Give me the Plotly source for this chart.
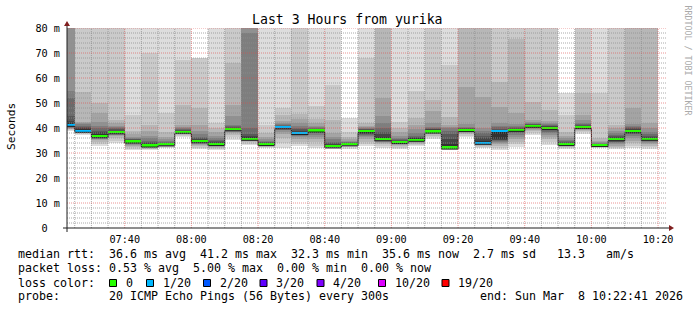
import numpy as np
import pandas as pd
import plotly.graph_objects as go

# ---------------- data (SmokePing RRD: 20 sorted pings per 300 s step, ms) ----------------
step_end = pd.date_range("2026-03-08 07:25:00", periods=36, freq="5min")

ping01 = [39.0, 37.3, 32.7, 34, 31.3, 31.2, 32, 36.5, 31.7, 31.3, 35.3, 33.3, 32, 32, 32.7, 32, 31.5, 31.8, 32.7, 32, 31.7, 32.7, 35.5, 31.4, 36.5, 32, 31.3, 32.5, 37.3, 33.3, 31.8, 37.5, 32, 31.5, 32, 31.7]
ping02 = [39.3, 37.6, 33.5, 35, 31.8, 31.5, 32.3, 37, 32.2, 31.7, 36.5, 33.8, 32.3, 34, 33.5, 33, 31.8, 32.5, 33.5, 32.8, 32.2, 33.3, 36.3, 31.6, 37, 32.5, 32, 33.5, 38, 34.5, 32.2, 38.3, 32.3, 32, 33, 32.3]
ping03 = [39.6, 37.9, 34.5, 36, 32.3, 31.8, 32.6, 37.3, 32.7, 32.1, 37.3, 34.3, 32.6, 36, 34.5, 34.3, 32, 32.8, 34.5, 33.5, 32.7, 33.8, 37, 31.8, 37.5, 33, 32.8, 34.5, 38.7, 35.5, 32.6, 38.9, 32.5, 32.5, 34, 32.9]
ping04 = [39.8, 38.1, 35.2, 36.8, 32.8, 32.1, 32.8, 37.6, 33.2, 32.5, 38, 34.7, 32.9, 37.5, 35.5, 35.5, 32.2, 33, 35.5, 34, 33.1, 34.2, 37.5, 31.9, 38, 33.3, 33.5, 35.5, 39.3, 36.5, 32.9, 39.3, 32.7, 33, 35, 33.5]
ping05 = [40.0, 38.3, 35.6, 37.2, 33.3, 32.3, 33, 37.8, 33.6, 32.8, 38.5, 35, 33.1, 38.5, 36.3, 36.5, 32.3, 33.1, 36.3, 34.5, 33.5, 34.5, 37.8, 32, 38.3, 33.5, 34, 36.5, 39.8, 37.3, 33.1, 39.6, 32.8, 33.5, 36, 34]
ping06 = [40.2, 38.5, 36.0, 37.5, 33.7, 32.5, 33.1, 38, 34, 33, 38.8, 35.2, 33.2, 39.2, 36.8, 37.3, 32.4, 33.2, 36.8, 34.8, 33.8, 34.8, 38, 32.05, 38.6, 33.7, 34.5, 37.3, 40.1, 38, 33.3, 39.8, 32.9, 34, 36.8, 34.5]
ping07 = [40.4, 38.6, 36.2, 37.8, 34, 32.6, 33.2, 38.1, 34.2, 33.2, 39, 35.3, 33.3, 39.6, 37.2, 38, 32.5, 33.3, 37.3, 35, 34, 35, 38.2, 32.1, 38.8, 33.8, 34.9, 38, 40.3, 38.6, 33.4, 40, 33, 34.4, 37.5, 34.9]
ping08 = [40.6, 38.7, 36.4, 38, 34.2, 32.7, 33.3, 38.2, 34.4, 33.3, 39.2, 35.4, 33.4, 39.9, 37.5, 38.4, 32.55, 33.35, 37.8, 35.2, 34.1, 35.1, 38.3, 32.15, 39, 33.9, 35.2, 38.5, 40.5, 39.1, 33.5, 40.1, 33.05, 34.8, 38, 35.2]
ping09 = [40.8, 38.8, 36.5, 38.1, 34.3, 32.8, 33.4, 38.3, 34.5, 33.4, 39.3, 35.5, 33.5, 40.1, 37.7, 38.7, 32.6, 33.4, 38.2, 35.3, 34.2, 35.2, 38.4, 32.2, 39.1, 34, 35.4, 38.9, 40.6, 39.5, 33.55, 40.2, 33.1, 35.1, 38.3, 35.4]
ping10 = [41.0, 38.9, 36.6, 38.2, 34.4, 32.9, 33.5, 38.4, 34.6, 33.5, 39.4, 35.6, 33.55, 40.2, 37.9, 38.9, 32.65, 33.45, 38.5, 35.4, 34.3, 35.25, 38.5, 32.2, 39.15, 34.05, 35.5, 39.1, 40.7, 39.8, 33.6, 40.3, 33.15, 35.3, 38.5, 35.5]
ping11 = [42, 39.5, 37.5, 38.6, 34.8, 33.5, 33.8, 38.8, 35, 34, 40, 36.2, 33.8, 40.6, 38.6, 39.3, 33.1, 33.7, 39.1, 36.5, 34.8, 35.7, 39.2, 33.5, 39.6, 35, 39, 39.5, 41.1, 40.4, 33.9, 40.7, 33.3, 36, 39.4, 36.2]
ping12 = [43, 40, 38.5, 39, 35.2, 34, 34, 39, 35.5, 34.3, 40.2, 36.8, 34, 40.8, 39, 39.6, 33.5, 33.9, 39.3, 37.5, 35, 36, 39.5, 35.5, 39.8, 36, 39.4, 39.8, 41.3, 40.7, 34.1, 41, 33.4, 36.3, 39.7, 36.5]
ping13 = [45, 40.5, 39, 39.5, 35.5, 34.5, 34.2, 39.3, 36, 34.8, 40.5, 37.5, 34.3, 41, 39.5, 39.8, 34, 34.1, 39.5, 38.5, 35.3, 36.5, 39.7, 37.5, 40, 37, 39.8, 40, 41.5, 41, 34.4, 41.2, 33.6, 36.8, 40, 37]
ping14 = [52, 41, 40, 40, 35.8, 35, 34.5, 39.6, 36.5, 35.3, 40.8, 40, 34.6, 41.2, 40, 40, 34.5, 34.3, 39.7, 40, 35.7, 37, 40, 39, 40.2, 38, 40.3, 40.3, 41.7, 41.2, 34.8, 41.5, 33.8, 37.3, 40.3, 37.5]
ping15 = [55, 41.5, 41, 40.5, 36, 36, 35, 40, 37.5, 36, 41.3, 78, 35, 41.5, 41, 40.5, 35.5, 34.6, 40, 42, 36.2, 38, 40.5, 40, 40.5, 39, 41, 40.8, 42, 41.5, 35.3, 42, 34.1, 38, 40.8, 38.5]
ping16 = [81, 42, 42.6, 41, 36.5, 37, 35.5, 40.5, 39, 37, 45, 82, 35.5, 42, 42, 41, 36.5, 35, 40.5, 45, 37, 39.5, 42, 40.6, 41.5, 40, 42, 41.5, 42.5, 42, 36, 43.3, 34.5, 39, 41.5, 40]
ping17 = [83, 42.6, 46, 42, 37.5, 39, 36.5, 41.3, 41.3, 38.5, 49.3, 85, 36.5, 43, 43.5, 42, 38, 35.5, 41, 52, 38.5, 41.3, 47, 41.3, 56.5, 52.6, 48.5, 46, 43.3, 43, 37, 45.3, 35, 40, 48, 42]
ping18 = [86, 54.6, 50, 43.3, 38.8, 41.3, 38.6, 49.3, 48, 40, 66, 88, 38, 45.3, 45.5, 43.5, 43.3, 36.5, 42, 86, 40, 44, 51.3, 44.6, 86, 86, 58.6, 75.5, 50.6, 47.3, 38.6, 54, 36, 41.3, 86, 86]
ping19 = [90, 90, 90, 90, 45.3, 70, 46, 67.3, 68, 42, 90, 92, 41.3, 48, 90, 49, 57.3, 38.5, 68, 90, 42.6, 55, 90, 65.3, 90, 90, 90, 90, 90, 90, 45.3, 90, 54, 90, 90, 90]
ping20 = [95, 95, 95, 95, 95, 95, 95, 95, 68.2, 95, 95, 95, 95, 95, 95, 95, 95, 44, 95, 95, 95, 95, 95, 95, 95, 95, 95, 95, 95, 95, 54, 95, 95, 95, 95, 95]

median = [41.3, 38.9, 36.7, 38.3, 34.6, 33.0, 33.5, 38.5, 34.7, 33.6, 39.5, 35.7, 33.6, 40.3, 38.0, 39.0, 32.7, 33.5, 38.7, 35.5, 34.4, 35.3, 38.6, 32.2, 39.2, 34.1, 38.7, 39.3, 40.9, 40.0, 33.6, 40.4, 33.2, 35.5, 38.7, 35.7]
loss = [1, 1, 0, 0, 0, 0, 0, 0, 0, 0, 0, 0, 0, 1, 1, 0, 0, 0, 0, 0, 0, 0, 0, 0, 0, 1, 1, 0, 0, 0, 0, 0, 0, 0, 0, 0]

loss_thresholds = [0, 1, 2, 3, 4, 10, 19]
loss_colors = ["#26ff00", "#00b8ff", "#0059ff", "#5e00ff", "#7e00ff", "#dd00ff", "#ff0000"]
loss_labels = ["0", "1/20", "2/20", "3/20", "4/20", "10/20", "19/20"]

y_tick_vals = [0, 10, 20, 30, 40, 50, 60, 70, 80]
y_tick_text = ["0\u00a0\u00a0", "10 m", "20 m", "30 m", "40 m", "50 m", "60 m", "70 m", "80 m"]
x_tick_vals = ["2026-03-08 07:40", "2026-03-08 08:00", "2026-03-08 08:20", "2026-03-08 08:40",
               "2026-03-08 09:00", "2026-03-08 09:20", "2026-03-08 09:40", "2026-03-08 10:00",
               "2026-03-08 10:20"]
x_tick_text = ["07:40", "08:00", "08:20", "08:40", "09:00", "09:20", "09:40", "10:00", "10:20"]

title_text = "Last 3 Hours from yurika"
rrd_credit = "RRDTOOL / TOBI OETIKER"
row_rtt = "median rtt:  36.6 ms avg  41.2 ms max  32.3 ms min  35.6 ms now  2.7 ms sd   13.3   am/s"
row_loss = "packet loss: 0.53 % avg  5.00 % max  0.00 % min  0.00 % now"
row_probe = "probe:       20 ICMP Echo Pings (56 Bytes) every 300s"
row_end = "end: Sun Mar  8 10:22:41 2026"
loss_key_x = [109.5, 146.5, 203.5, 260, 317, 378.5, 442]

# ---------------- geometry ----------------
W, H = 697, 310
ML, MR, MT, MB = 67, 30, 28, 82
PW, PH = W - ML - MR, H - MT - MB
FONT = "DejaVu Sans Mono"
LEG_SIZE = 11.63


def px(x):
    return (x - ML) / PW


def py(y):
    return (H - MB - y) / PH


def keep_spaces(s):
    return s.replace(" ", "\u00a0")


pings = [ping01, ping02, ping03, ping04, ping05, ping06, ping07, ping08, ping09, ping10,
         ping11, ping12, ping13, ping14, ping15, ping16, ping17, ping18, ping19, ping20]
for p in pings:
    assert len(p) == len(step_end)

STEP_MS = 300000
fig = go.Figure()

# smoke: layer k spans ping k .. ping (21-k), darker toward the median
for k in range(1, 11):
    lo = np.array(pings[k - 1], dtype=float)
    hi = np.array(pings[20 - k], dtype=float)
    g = int(190 / 10 * (10 - k)) + 50
    fig.add_trace(go.Bar(x=step_end, y=hi - lo, base=lo, offset=-STEP_MS, width=STEP_MS,
                         marker=dict(color=f"rgb({g},{g},{g})", line=dict(width=0)),
                         hoverinfo="skip", showlegend=False))


def loss_color(n):
    c = loss_colors[0]
    for t, col in zip(loss_thresholds, loss_colors):
        if n >= t:
            c = col
    return c


med = np.array(median, dtype=float)
band = 0.9
fig.add_trace(go.Bar(x=step_end, y=[band] * len(med), base=med - band / 2, offset=-STEP_MS,
                     width=STEP_MS, marker=dict(color=[loss_color(n) for n in loss], line=dict(width=0)),
                     hoverinfo="skip", showlegend=False))

step_start = step_end - pd.Timedelta("5min")
xs = list(step_start) + [step_end[-1]]
ys = list(med - 0.62) + [med[-1] - 0.62]
fig.add_trace(go.Scatter(x=xs, y=ys, mode="lines", line=dict(color="rgb(32,32,32)", width=1, shape="hv"),
                         hoverinfo="skip", showlegend=False))

x_start = pd.Timestamp("2026-03-08 07:22:41")
x_end = pd.Timestamp("2026-03-08 10:22:41")

shapes = []
GRID = "rgba(143,143,143,0.75)"
MGRID = "rgba(222,79,79,0.6)"
DASH = "1px,1px"
# minor grid
for t in pd.date_range("2026-03-08 07:25", "2026-03-08 10:20", freq="5min"):
    if t.minute % 20 != 0:
        shapes.append(dict(type="line", xref="x", yref="y domain", x0=t, x1=t, y0=0, y1=1,
                           line=dict(color=GRID, width=1, dash=DASH), layer="above"))
for v in range(2, 80, 2):
    if v % 10 != 0:
        shapes.append(dict(type="line", xref="x domain", yref="y", x0=0, x1=1, y0=v, y1=v,
                           line=dict(color=GRID, width=1, dash=DASH), layer="above"))
# major grid
for t in x_tick_vals:
    shapes.append(dict(type="line", xref="x", yref="y domain", x0=t, x1=t, y0=0, y1=1,
                       line=dict(color=MGRID, width=1, dash=DASH), layer="above"))
for v in y_tick_vals[1:]:
    shapes.append(dict(type="line", xref="x domain", yref="y", x0=0, x1=1, y0=v, y1=v,
                       line=dict(color=MGRID, width=1, dash=DASH), layer="above"))

# axes + arrows
AX = "rgb(31,31,31)"
ARROW = "rgb(128,31,31)"
shapes.append(dict(type="line", xref="paper", yref="paper", x0=px(63), x1=px(ML + PW + 3), y0=0, y1=0,
                   line=dict(color=AX, width=1), layer="above"))
shapes.append(dict(type="line", xref="paper", yref="paper", x0=0, x1=0, y0=py(H - MB + 4), y1=py(MT - 4),
                   line=dict(color=AX, width=1), layer="above"))
xa, ya = px(ML + PW + 2), px(ML + PW + 7)
shapes.append(dict(type="path", xref="paper", yref="paper",
                   path=f"M {xa} {py(H - MB - 3)} L {ya} {py(H - MB)} L {xa} {py(H - MB + 3)} Z",
                   fillcolor=ARROW, line=dict(color=ARROW, width=0), layer="above"))
shapes.append(dict(type="path", xref="paper", yref="paper",
                   path=f"M {px(ML - 3)} {py(MT - 2)} L {px(ML)} {py(MT - 7)} L {px(ML + 3)} {py(MT - 2)} Z",
                   fillcolor=ARROW, line=dict(color=ARROW, width=0), layer="above"))

# loss colour key squares
for xk, col in zip(loss_key_x, loss_colors):
    shapes.append(dict(type="rect", xref="paper", yref="paper", x0=px(xk), x1=px(xk + 7),
                       y0=py(286.5), y1=py(279.5), fillcolor=col, line=dict(color="black", width=1)))

annotations = []


def txt(s, x, y, size=LEG_SIZE, color="black", xanchor="left", angle=0):
    annotations.append(dict(text=keep_spaces(s), x=px(x), y=py(y), xref="paper", yref="paper",
                            showarrow=False, xanchor=xanchor, yanchor="middle", textangle=angle,
                            font=dict(family=FONT, size=size, color=color)))


txt(title_text, 347.8, 20, size=13.2, xanchor="center")
txt(rrd_credit, 687.5, 60, size=8.3, color="rgb(170,170,170)", xanchor="center", angle=90)
txt("Seconds", 11, 127, size=11.2, xanchor="center", angle=-90)
txt(row_rtt, 16, 254)
txt(row_loss, 16, 268)
txt("loss color:", 16, 282.5)
for xk, lab in zip(loss_key_x, loss_labels):
    txt(lab, xk + 14, 282.5)
txt(row_probe, 16, 296)
txt(row_end, 478, 296)

fig.update_layout(
    width=W, height=H, margin=dict(l=ML, r=MR, t=MT, b=MB, pad=0),
    paper_bgcolor="white", plot_bgcolor="white",
    barmode="overlay", bargap=0, showlegend=False,
    shapes=shapes, annotations=annotations,
    xaxis=dict(type="date", range=[x_start, x_end], showgrid=False, zeroline=False, showline=False,
               tickmode="array", tickvals=x_tick_vals, ticktext=x_tick_text, ticks="",
               tickfont=dict(family=FONT, size=10.2, color="black"), ticklabelstandoff=4,
               fixedrange=True),
    yaxis=dict(range=[0, 80], showgrid=False, zeroline=False, showline=False,
               tickmode="array", tickvals=y_tick_vals, ticktext=y_tick_text, ticks="",
               tickfont=dict(family=FONT, size=10.2, color="black"), ticklabelstandoff=6,
               fixedrange=True),
)

fig.write_html("out.html")
